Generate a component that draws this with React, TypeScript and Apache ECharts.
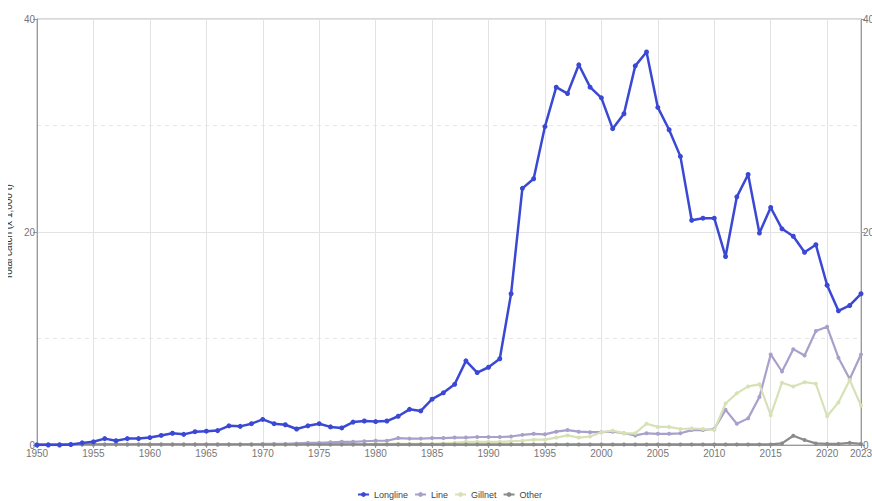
import React, { useEffect, useRef } from "react";
import * as echarts from "echarts";

const years = [
  1950, 1951, 1952, 1953, 1954, 1955, 1956, 1957, 1958, 1959,
  1960, 1961, 1962, 1963, 1964, 1965, 1966, 1967, 1968, 1969,
  1970, 1971, 1972, 1973, 1974, 1975, 1976, 1977, 1978, 1979,
  1980, 1981, 1982, 1983, 1984, 1985, 1986, 1987, 1988, 1989,
  1990, 1991, 1992, 1993, 1994, 1995, 1996, 1997, 1998, 1999,
  2000, 2001, 2002, 2003, 2004, 2005, 2006, 2007, 2008, 2009,
  2010, 2011, 2012, 2013, 2014, 2015, 2016, 2017, 2018, 2019,
  2020, 2021, 2022, 2023,
];

const longline = [
  0, 0, 0, 0.05, 0.2, 0.3, 0.6, 0.4, 0.6, 0.6,
  0.7, 0.9, 1.1, 1.0, 1.25, 1.3, 1.35, 1.8, 1.75, 2.0,
  2.4, 2.0, 1.9, 1.5, 1.8, 2.0, 1.7, 1.6, 2.15, 2.25,
  2.2, 2.25, 2.7, 3.35, 3.2, 4.3, 4.9, 5.7, 7.9, 6.8,
  7.3, 8.1, 14.2, 24.1, 25.0, 29.9, 33.6, 33.0, 35.7, 33.6,
  32.6, 29.7, 31.1, 35.6, 36.9, 31.7, 29.6, 27.1, 21.1, 21.3,
  21.3, 17.7, 23.3, 25.4, 19.9, 22.3, 20.3, 19.6, 18.1, 18.8,
  15.0, 12.6, 13.1, 14.2,
];

const line = [
  0.05, 0.05, 0.05, 0.05, 0.05, 0.05, 0.05, 0.05, 0.05, 0.05,
  0.05, 0.05, 0.05, 0.05, 0.05, 0.05, 0.05, 0.05, 0.05, 0.05,
  0.1, 0.1, 0.1, 0.15, 0.2, 0.2, 0.25, 0.3, 0.3, 0.35,
  0.4, 0.4, 0.65, 0.6, 0.6, 0.65, 0.65, 0.7, 0.7, 0.75,
  0.75, 0.75, 0.8, 0.95, 1.05, 1.0, 1.25, 1.4, 1.25, 1.2,
  1.2, 1.25, 1.1, 0.9, 1.1, 1.05, 1.05, 1.1, 1.4, 1.4,
  1.5, 3.3, 2.0, 2.5, 4.5, 8.5, 6.9, 9.0, 8.4, 10.7,
  11.1, 8.2, 6.2, 8.5,
];

const gillnet = [
  0.05, 0.05, 0.05, 0.05, 0.05, 0.05, 0.05, 0.05, 0.05, 0.05,
  0.05, 0.05, 0.05, 0.05, 0.05, 0.05, 0.05, 0.05, 0.05, 0.05,
  0.05, 0.05, 0.05, 0.05, 0.05, 0.05, 0.05, 0.05, 0.05, 0.05,
  0.1, 0.1, 0.1, 0.1, 0.1, 0.1, 0.15, 0.2, 0.3, 0.3,
  0.3, 0.3, 0.35, 0.4, 0.5, 0.5, 0.7, 0.9, 0.7, 0.8,
  1.2, 1.35, 1.1, 1.1, 2.0, 1.7, 1.7, 1.5, 1.55, 1.5,
  1.4, 3.9, 4.85, 5.5, 5.7, 2.8, 5.85, 5.5, 5.9, 5.75,
  2.7, 4.0, 6.1, 3.7,
];

const other = [
  0.05, 0.05, 0.05, 0.05, 0.05, 0.05, 0.05, 0.05, 0.05, 0.05,
  0.05, 0.05, 0.05, 0.05, 0.05, 0.05, 0.05, 0.05, 0.05, 0.05,
  0.05, 0.05, 0.05, 0.05, 0.05, 0.05, 0.05, 0.05, 0.05, 0.05,
  0.05, 0.05, 0.05, 0.05, 0.05, 0.05, 0.05, 0.05, 0.05, 0.05,
  0.05, 0.05, 0.05, 0.05, 0.05, 0.05, 0.05, 0.05, 0.05, 0.05,
  0.05, 0.05, 0.05, 0.05, 0.05, 0.05, 0.05, 0.05, 0.05, 0.05,
  0.05, 0.05, 0.05, 0.05, 0.05, 0.05, 0.15, 0.87, 0.47, 0.15,
  0.1, 0.1, 0.2, 0.1,
];

const seriesNames = ["Longline", "Line", "Gillnet", "Other"];
const yTickLabels = ["0", "20", "40"];

export default function App() {
  const ref = useRef<HTMLDivElement>(null);

  useEffect(() => {
    if (!ref.current) return;
    const chart = echarts.init(ref.current, null, { renderer: "svg" });
    const cats = years.map(String);
    const showYear = (idx: number) => {
      const y = years[idx];
      return y % 5 === 0 || y === 2023;
    };
    const yAxisBase = {
      type: "value",
      min: 0,
      max: 40,
      interval: 20,
      axisLine: { show: true, lineStyle: { color: "#9a9a9a" } },
      axisTick: { show: true, length: 4, lineStyle: { color: "#9a9a9a" } },
      axisLabel: {
        margin: 2,
        fontSize: 10,
        color: "#777",
        fontFamily: "Liberation Sans, Arial, sans-serif",
        formatter: (v: number) => (yTickLabels.includes(String(v)) ? String(v) : ""),
      },
    };
    const colors = ["#3a48d4", "#a99fcb", "#d6e2b6", "#8a8a8a"];
    const dataSets = [longline, line, gillnet, other];
    chart.setOption({
      animation: false,
      backgroundColor: "#fff",
      grid: {
        left: 29,
        right: 11,
        top: 19,
        bottom: 56,
        containLabel: false,
        outerBoundsMode: "none",
        show: true,
        borderColor: "#b0b0b0",
        borderWidth: 1,
        backgroundColor: "transparent",
      },
      legend: {
        data: seriesNames,
        top: 485,
        left: 344,
        itemWidth: 11,
        itemHeight: 6,
        itemGap: 6,
        textStyle: {
          fontSize: 9,
          color: "#444",
          fontFamily: "Liberation Sans, Arial, sans-serif",
        },
      },
      xAxis: {
        type: "category",
        data: cats,
        boundaryGap: false,
        axisLine: { show: true, lineStyle: { color: "#9a9a9a" } },
        axisTick: {
          show: true,
          length: 3,
          interval: (idx: number) => showYear(idx),
          lineStyle: { color: "#9a9a9a" },
        },
        axisLabel: {
          interval: (idx: number) => showYear(idx),
          margin: 3,
          fontSize: 10,
          color: "#777",
          fontFamily: "Liberation Sans, Arial, sans-serif",
          hideOverlap: false,
        },
        splitLine: {
          show: true,
          interval: (idx: number) => showYear(idx),
          lineStyle: { color: "#e3e3e3", width: 1 },
        },
      },
      yAxis: [
        {
          ...yAxisBase,
          position: "left",
          name: "Total catch (x 1,000 t)",
          nameLocation: "middle",
          nameGap: 24,
          nameMoveOverlap: false,
          nameTextStyle: {
            fontSize: 10,
            color: "#333",
            fontFamily: "Liberation Sans, Arial, sans-serif",
          },
          splitLine: { show: true, lineStyle: { color: "#e3e3e3" } },
          minorTick: { show: false, splitNumber: 2 },
          minorSplitLine: {
            show: true,
            lineStyle: { color: "#e6e6e6", type: [4, 4] },
          },
        },
        {
          ...yAxisBase,
          position: "right",
          splitLine: { show: false },
        },
      ],
      series: seriesNames.map((name, i) => ({
        name,
        type: "line",
        data: dataSets[i],
        symbol: "circle",
        symbolSize: i === 0 ? 5 : 4,
        showSymbol: true,
        lineStyle: { color: colors[i], width: i === 0 ? 2.5 : 2.2 },
        itemStyle: { color: colors[i] },
        z: i === 0 ? 5 : 2 + i * 0.1,
      })),
    });
    return () => chart.dispose();
  }, []);

  return (
    <div
      style={{
        position: "absolute",
        left: 8,
        top: 0,
        width: 864,
        height: 501,
        overflow: "hidden",
      }}
    >
      <div ref={ref} style={{ width: 864, height: 501 }} />
    </div>
  );
}
